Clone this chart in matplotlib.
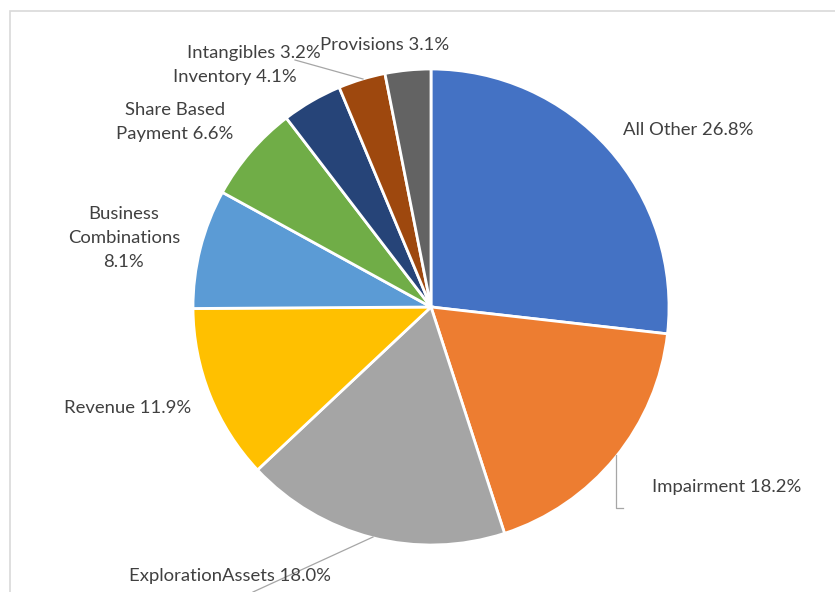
import matplotlib
matplotlib.use("Agg")
import matplotlib.pyplot as plt
from matplotlib.patches import Rectangle

categories = ["All Other", "Impairment", "ExplorationAssets", "Revenue",
              "Business Combinations", "Share Based Payment", "Inventory",
              "Intangibles", "Provisions"]
values = [26.8, 18.2, 18.0, 11.9, 8.1, 6.6, 4.1, 3.2, 3.1]
label_texts = ["All Other 26.8%", "Impairment 18.2%", "ExplorationAssets 18.0%",
               "Revenue 11.9%", "Business\nCombinations\n8.1%",
               "Share Based\nPayment 6.6%", "Inventory 4.1%",
               "Intangibles 3.2%", "Provisions 3.1%"]
colors = ["#4472C4", "#ED7D31", "#A5A5A5", "#FFC000", "#5B9BD5",
          "#70AD47", "#264478", "#9E480E", "#636363"]

W, H = 835, 592
fig = plt.figure(figsize=(W / 100, H / 100), dpi=100)
ax = fig.add_axes([0, 0, 1, 1])
ax.set_xlim(0, W)
ax.set_ylim(0, H)
ax.set_aspect("equal")
ax.axis("off")

# frame
ax.add_patch(Rectangle((10, -10), W, H - 11 + 10, fill=False,
                       edgecolor="#D9D9D9", linewidth=1.2))

cx, cy, r = 431, H - 307, 238
ax.pie(values, colors=colors, startangle=90, counterclock=False,
       center=(cx, cy), radius=r, frame=True,
       wedgeprops=dict(edgecolor="white", linewidth=2))
ax.set_xlim(0, W)
ax.set_ylim(0, H)
ax.axis("off")

font = dict(family=["Lato", "DejaVu Sans"], fontsize=13.3, color="#404040")
label_pos = [(688, 130), (727, 487), (230, 576), (128, 408), (124, 238),
             (175, 122), (235, 77), (254, 53), (385, 45)]
for txt, (x, y) in zip(label_texts, label_pos):
    ax.text(x, H - y, txt, ha="center", va="center", linespacing=1.58, **font)

lc = "#A6A6A6"
# leader lines
ax.plot([295, 363], [H - 60, H - 79], color=lc, lw=0.9)
ax.plot([616, 616, 623], [H - 455, H - 508, H - 508], color=lc, lw=0.9)
ax.plot([373, 253], [H - 537, H - 592], color=lc, lw=0.9)

fig.savefig("out.png", dpi=100)
